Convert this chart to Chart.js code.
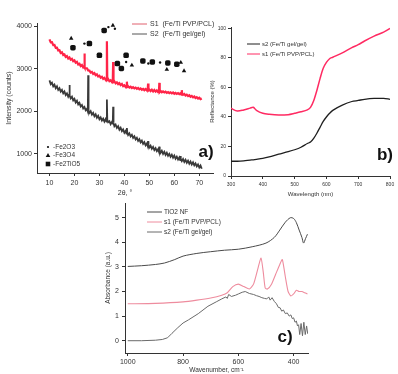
<!DOCTYPE html>
<html>
<head>
<meta charset="utf-8">
<script src="https://cdn.jsdelivr.net/npm/chart.js@4"></script>
<style>
html, body { margin: 0; padding: 0; background: #fff; }
#wrap { position: relative; width: 398px; height: 374px; overflow: hidden; }
canvas { position: absolute; }
</style>
</head>
<body>
<div id="wrap">
  <canvas id="chartA" width="230" height="200" style="left:0;top:0"></canvas>
  <canvas id="chartB" width="198" height="200" style="left:200px;top:0"></canvas>
  <canvas id="chartC" width="230" height="184" style="left:90px;top:190px"></canvas>
</div>
<script>
// a) XRD patterns
const s1Angle = [10,10.5,11,11.5,12,12.5,13,13.5,14,14.5,15,15.5,16,16.5,17,17.5,18,18.5,19,19.5,
    20,20.5,21,21.5,22,22.5,23,23.5,23.85,24,24.15,24.5,25,25.5,26,26.5,27,27.5,28,28.5,29,29.5,
    30,30.5,31,31.5,32,32.5,32.85,33,33.15,33.5,34,34.5,35,35.35,35.5,35.65,36,36.5,37,37.5,38,38.5,39,39.5,
    40,40.5,40.85,41,41.15,41.5,42,42.5,43,43.5,44,44.5,45,45.5,46,46.5,47,47.5,48,48.5,49,49.35,49.5,49.65,
    50,50.5,51,51.5,52,52.5,53,53.5,53.85,54,54.15,54.5,55,55.5,56,56.5,57,57.5,58,58.5,59,59.5,
    60,60.5,61,61.5,62,62.5,62.85,63,63.15,63.5,64,64.5,65,65.5,66,66.5,67,67.5,68,68.5,69,69.5,
    70,70.5,71];
const xrdS1 = [3695,3625,3630,3560,3565,3495,3500,3435,3440,3375,3390,3325,3340,3280,3300,3245,3270,3215,3235,3180,
    3200,3145,3165,3105,3120,3065,3090,3035,3055,3360,3030,3015,3015,2965,2960,2915,2930,2880,2900,2850,2870,2820,
    2840,2795,2815,2765,2790,2740,2765,3650,2740,2760,2710,2730,2690,2715,3160,2690,2705,2660,2685,2640,2665,2620,2645,2595,
    2615,2575,2600,2700,2575,2590,2560,2580,2550,2570,2540,2560,2530,2550,2520,2540,2510,2530,2500,2525,2495,2520,2655,2495,
    2515,2480,2510,2470,2505,2465,2495,2455,2480,2670,2455,2480,2450,2470,2445,2465,2435,2455,2430,2450,2425,2445,
    2415,2435,2410,2430,2405,2425,2395,2500,2410,2390,2410,2375,2395,2360,2380,2345,2365,2330,2350,2315,2335,2300,
    2320,2290,2305];
const s2Angle = [10,10.5,11,11.5,12,12.5,13,13.5,14,14.5,15,15.5,16,16.5,17,17.5,17.85,18,18.15,18.5,19,19.5,
    20,20.5,21,21.5,22,22.5,23,23.5,24,24.5,25,25.35,25.5,25.65,26,26.5,27,27.5,28,28.5,29,29.5,
    30,30.5,31,31.5,32,32.5,32.85,33,33.15,33.5,34,34.5,35,35.35,35.5,35.65,36,36.5,37,37.5,38,38.5,39,39.5,
    40,40.5,40.85,41,41.15,41.5,42,42.5,43,43.5,44,44.5,45,45.5,46,46.5,47,47.5,48,48.5,49,49.35,49.5,49.65,
    50,50.5,51,51.5,52,52.5,53,53.5,53.85,54,54.15,54.5,55,55.5,56,56.5,57,57.5,58,58.5,59,59.5,
    60,60.5,61,61.5,62,62.35,62.5,62.65,63,63.5,64,64.5,65,65.5,66,66.5,67,67.5,68,68.5,69,69.5,
    70,70.5,71];
const xrdS2 = [2730,2640,2675,2590,2630,2545,2590,2505,2545,2465,2505,2425,2470,2385,2425,2345,2390,2620,2370,2305,2345,2260,
    2295,2210,2250,2165,2200,2115,2150,2070,2105,2025,2060,2000,2850,2020,1965,2005,1925,1965,1885,1930,1850,1895,
    1815,1860,1785,1830,1760,1820,1760,2280,1800,1745,1770,1700,1750,1720,2110,1730,1650,1690,1610,1650,1570,1615,1535,1575,
    1495,1540,1480,1610,1510,1445,1485,1410,1450,1375,1415,1340,1380,1305,1345,1270,1310,1235,1275,1200,1245,1185,1300,1210,
    1150,1195,1120,1165,1090,1135,1065,1110,1050,1170,1085,1025,1075,1000,1050,975,1025,955,1000,930,980,910,
    960,885,935,865,915,855,950,880,830,880,810,860,790,840,770,820,750,800,730,775,705,750,
    680,725,650];
const fe2o3Angle = [24.0,33.6,36.2,40.7,49.6,54.3];
const fe2o3Y = [3595,3984,3946,3163,3126,3150];
const fe3o4Angle = [18.7,35.4,43.0,57.0,62.6,63.9];
const fe3o4Y = [3719,4023,3086,2985,3150,2952];
const fe2tio5Angle = [19.4,26.0,30.0,31.9,37.2,38.8,40.7,47.4,51.2,57.4,61.0];
const fe2tio5Y = [3500,3595,3320,3906,3126,3009,3320,3187,3163,3140,3110];
const ticksAx = [10,20,30,40,50,60,70];
const ticksAy = [1000,2000,3000,4000];

// b) reflectance
const wavelength = [300,320,340,360,370,380,400,420,450,480,500,520,540,550,560,570,580,590,600,610,620,650,680,700,720,750,780,800];
const reflS1 = [45.9,44,44.8,46,46.6,44.5,42.5,41.8,41.3,41.6,42.5,43.5,44.8,46.5,51,58,66,73,77,79.5,80.5,83.5,87,89,91.5,94.8,97.5,100];
const reflS2 = [10,10,10.3,10.8,11,11.3,12,13,14.8,16.5,17.8,19.5,22,23,25.5,29,33,37,40,42.5,44.5,48,50.5,51.2,52,52.6,52.6,52];
const ticksBx = [300,400,500,600,700,800];
const ticksBy = [0,20,40,60,80,100];

// c) absorbance
const tio2Wn = [1000,950,900,867,830,800,750,700,650,600,550,500,470,450,430,412,400,390,380,370,364,357,350];
const tio2Abs = [3.02,3.05,3.1,3.16,3.3,3.44,3.55,3.62,3.68,3.72,3.82,3.97,4.2,4.5,4.82,5.0,4.97,4.8,4.5,4.2,3.97,4.15,4.33];
const s1Wn = [1000,900,800,750,700,660,640,620,600,580,560,545,530,518,510,503,495,480,465,450,441,430,420,410,400,390,380,370,360,350];
const s1Abs = [1.5,1.52,1.58,1.65,1.74,1.85,1.95,2.2,2.3,2.2,2.1,2.3,2.9,3.36,2.8,2.15,2.1,2.3,2.7,3.1,3.3,2.6,2.0,1.82,1.9,2.05,2.0,2.0,1.95,1.9];
const s2Wn = [1000,950,900,875,856,840,819,800,780,745,710,680,660,645,640,635,625,610,600,586,575,560,545,534,525,515,505,497,490,485,478,470,462,455,449,443,437,430,423,416,410,405,400,395,390,386,382,378,373,368,363,358,353,349];
const s2Abs = [0.0,0.0,0.02,0.05,0.12,0.3,0.53,0.72,0.85,1.1,1.4,1.58,1.7,1.78,1.72,1.88,1.8,1.85,1.9,1.97,2.0,1.92,1.88,1.83,1.8,1.75,1.72,1.7,1.78,1.65,1.75,1.6,1.5,1.35,1.34,1.2,1.25,1.1,1.13,1.0,1.05,0.9,0.93,0.75,0.8,0.6,0.65,0.25,0.7,0.2,0.75,0.25,0.6,0.28];
const ticksCx = [400,600,800,1000];
const ticksCy = [0,1,2,3,4,5];

const fontFam = '"Liberation Sans", Arial, sans-serif';
const ink = '#333';

function pairs(xs, ys) { return xs.map((x, i) => ({x: x, y: ys[i]})); }

function makeAxis(o) {
    return {
        type: 'linear', min: o.min, max: o.max, reverse: !!o.reverse,
        afterBuildTicks: s => { s.ticks = o.ticks.map(v => ({value: v})); },
        afterFit: s => { if (s.isHorizontal()) s.height = o.size; else s.width = o.size; },
        grid: {drawOnChartArea: false, drawTicks: true, tickLength: 3, color: ink, lineWidth: 1},
        border: {display: true, color: ink, width: 1},
        ticks: {color: ink, font: {family: fontFam, size: o.tickSize}, padding: o.tickPad,
            maxRotation: 0, autoSkip: false, callback: v => String(v)},
        title: {display: true, text: o.title, color: ink, font: {family: fontFam, size: o.titleSize},
            padding: o.titlePad}
    };
}

// draws legends and panel letters straight on the canvas
function notes(items) {
    return {
        id: 'notes',
        afterDraw(chart) {
            const ctx = chart.ctx;
            ctx.save();
            items.forEach(it => {
                if (it.line) {
                    ctx.strokeStyle = it.line; ctx.lineWidth = it.lw || 1;
                    ctx.beginPath(); ctx.moveTo(it.x, it.y); ctx.lineTo(it.x + it.len, it.y); ctx.stroke();
                } else if (it.mark) {
                    ctx.fillStyle = '#111';
                    ctx.beginPath();
                    if (it.mark === 'dot') ctx.arc(it.x, it.y, 1.1, 0, Math.PI * 2);
                    if (it.mark === 'tri') { ctx.moveTo(it.x, it.y - 2.4); ctx.lineTo(it.x + 2.3, it.y + 1.6); ctx.lineTo(it.x - 2.3, it.y + 1.6); ctx.closePath(); }
                    if (it.mark === 'sq') ctx.rect(it.x - 2.3, it.y - 2.3, 4.6, 4.6);
                    ctx.fill();
                } else {
                    ctx.font = it.font; ctx.fillStyle = it.color || ink;
                    ctx.textAlign = it.align || 'left'; ctx.textBaseline = 'middle';
                    ctx.fillText(it.text, it.x, it.y);
                }
            });
            ctx.restore();
        }
    };
}

const baseOpts = {
    responsive: false, animation: false, events: [],
    plugins: {legend: {display: false}, tooltip: {enabled: false}}
};

new Chart(document.getElementById('chartA'), {
    type: 'line',
    data: {datasets: [
        {data: pairs(fe2o3Angle, fe2o3Y), showLine: false, pointRadius: 1.2, pointStyle: 'circle', pointBackgroundColor: '#111', pointBorderWidth: 0},
        {data: pairs(fe3o4Angle, fe3o4Y), showLine: false, pointRadius: 2.6, pointStyle: 'triangle', pointBackgroundColor: '#111', pointBorderWidth: 0},
        {data: pairs(fe2tio5Angle, fe2tio5Y), showLine: false, pointRadius: 3.2, pointStyle: 'rectRounded', pointBackgroundColor: '#111', pointBorderWidth: 0},
        {data: pairs(s1Angle, xrdS1), borderColor: '#ff2448', borderWidth: 2.2, pointRadius: 0, tension: 0},
        {data: pairs(s2Angle, xrdS2), borderColor: '#3a3a3a', borderWidth: 1.8, pointRadius: 0, tension: 0}
    ]},
    options: Object.assign({}, baseOpts, {
        layout: {padding: {top: 23, right: 17, left: 0, bottom: 0}},
        scales: {
            x: makeAxis({min: 5, max: 75.5, ticks: ticksAx, size: 27, tickSize: 7, tickPad: 3, title: '2θ, °', titleSize: 7, titlePad: {top: 0, bottom: 3}}),
            y: makeAxis({min: 550, max: 4080, ticks: ticksAy, size: 37, tickSize: 7, tickPad: 2, title: 'Intensity (counts)', titleSize: 7, titlePad: {top: 5, bottom: 0}})
        }
    }),
    plugins: [notes([
        {line: '#e0606e', x: 132, y: 24, len: 15},
        {text: 'S1  (Fe/Ti PVP/PCL)', x: 150, y: 24, font: '7px ' + fontFam},
        {line: '#555', x: 132, y: 34, len: 15},
        {text: 'S2  (Fe/Ti gel/gel)', x: 150, y: 34, font: '7px ' + fontFam},
        {mark: 'dot', x: 48, y: 147},
        {text: '-Fe2O3', x: 53, y: 147, font: '6.5px ' + fontFam},
        {mark: 'tri', x: 48, y: 155.5},
        {text: '-Fe3O4', x: 53, y: 155.5, font: '6.5px ' + fontFam},
        {mark: 'sq', x: 48, y: 164},
        {text: '-Fe2TiO5', x: 53, y: 164, font: '6.5px ' + fontFam},
        {text: 'a)', x: 206, y: 152, align: 'center', font: 'bold 17px ' + fontFam, color: '#111'}
    ])]
});

new Chart(document.getElementById('chartB'), {
    type: 'line',
    data: {datasets: [
        {data: pairs(wavelength, reflS2), borderColor: '#1e1e1e', borderWidth: 1.3, pointRadius: 0, tension: 0.3},
        {data: pairs(wavelength, reflS1), borderColor: '#ff2a62', borderWidth: 1.5, pointRadius: 0, tension: 0.3}
    ]},
    options: Object.assign({}, baseOpts, {
        layout: {padding: {top: 27, right: 8, left: 0, bottom: 0}},
        scales: {
            x: makeAxis({min: 300, max: 800, ticks: ticksBx, size: 24, tickSize: 5, tickPad: 3, title: 'Wavelength (nm)', titleSize: 6, titlePad: {top: 0, bottom: 2}}),
            y: makeAxis({min: 0, max: 101, ticks: ticksBy, size: 31, tickSize: 5, tickPad: 2, title: 'Reflectance (%)', titleSize: 6, titlePad: {top: 9, bottom: 0}})
        }
    }),
    plugins: [notes([
        {line: '#1e1e1e', x: 47, y: 44, len: 13},
        {text: 's2 (Fe/Ti gel/gel)', x: 62, y: 44, font: '6px ' + fontFam},
        {line: '#ff2a62', x: 47, y: 54, len: 13},
        {text: 's1 (Fe/Ti PVP/PCL)', x: 62, y: 54, font: '6px ' + fontFam},
        {text: 'b)', x: 185, y: 155, align: 'center', font: 'bold 17px ' + fontFam, color: '#111'}
    ])]
});

new Chart(document.getElementById('chartC'), {
    type: 'line',
    data: {datasets: [
        {data: pairs(tio2Wn, tio2Abs), borderColor: '#4a4a4a', borderWidth: 1, pointRadius: 0, tension: 0.3},
        {data: pairs(s1Wn, s1Abs), borderColor: '#ee8c9e', borderWidth: 1.1, pointRadius: 0, tension: 0.2},
        {data: pairs(s2Wn, s2Abs), borderColor: '#6a6a6a', borderWidth: 1, pointRadius: 0, tension: 0}
    ]},
    options: Object.assign({}, baseOpts, {
        layout: {padding: {top: 13, right: 12, left: 0, bottom: 0}},
        scales: {
            x: makeAxis({min: 348, max: 1010, reverse: true, ticks: ticksCx, size: 21, tickSize: 7, tickPad: 2, title: 'Wavenumber, cm⁻¹', titleSize: 6.5, titlePad: {top: 0, bottom: 0}}),
            y: makeAxis({min: -0.5, max: 5.6, ticks: ticksCy, size: 35, tickSize: 7, tickPad: 3, title: 'Absorbance (a.u.)', titleSize: 6.5, titlePad: {top: 14, bottom: 0}})
        }
    }),
    plugins: [notes([
        {line: '#4a4a4a', x: 57, y: 22, len: 15},
        {text: 'TiO2 NF', x: 74, y: 22, font: '6.5px ' + fontFam},
        {line: '#ee8c9e', x: 57, y: 32, len: 15},
        {text: 's1 (Fe/Ti PVP/PCL)', x: 74, y: 32, font: '6.5px ' + fontFam},
        {line: '#6a6a6a', x: 57, y: 42, len: 15},
        {text: 's2 (Fe/Ti gel/gel)', x: 74, y: 42, font: '6.5px ' + fontFam},
        {text: 'c)', x: 195, y: 147, align: 'center', font: 'bold 17px ' + fontFam, color: '#111'}
    ])]
});
</script>
</body>
</html>
